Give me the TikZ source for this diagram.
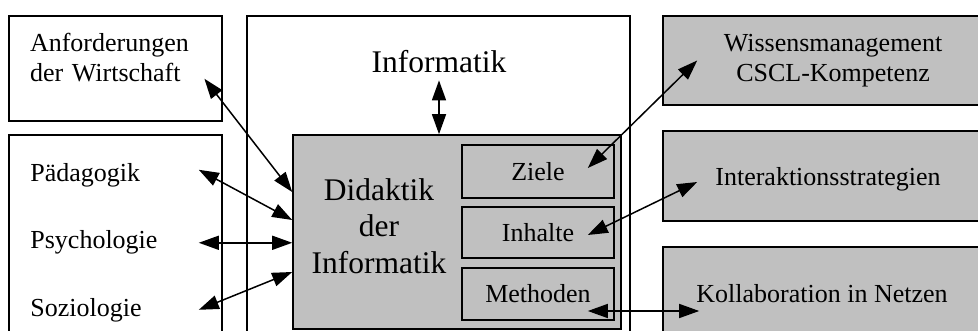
\documentclass[tikz,border=0pt]{standalone}
\usepackage{fontspec}
\setmainfont{Liberation Serif}
\usetikzlibrary{arrows.meta}
\definecolor{boxgray}{RGB}{192,192,192}
\tikzset{
wbox/.style={draw,line width=0.8pt,fill=white,inner sep=0pt},
gbox/.style={wbox,fill=boxgray},
sbox/.style={gbox,minimum width=76pt,font=\fontsize{13}{15}\selectfont},
ltxt/.style={inner sep=0pt,text width=84pt,align=left,font=\fontsize{13}{15}\selectfont},
rtxt/.style={inner sep=0pt,align=center,font=\fontsize{13}{15}\selectfont},
btxt/.style={align=center,font=\fontsize{15.75}{18.25}\selectfont},
dbl/.style={<->,>={Triangle[length=10pt,width=7pt]},line width=0.75pt}}

\begin{document}
\begin{tikzpicture}[x=0.5pt,y=-0.5pt]
\useasboundingbox (0,0) rectangle (978,331);
\clip (0,0) rectangle (978,331);
% boxes
\node[wbox,minimum width=106.5pt,minimum height=52.5pt] (anfbox) at (115.5,68.5) {};
\node[wbox,minimum width=106.5pt,minimum height=112.5pt] (discbox) at (115.5,247.5) {};
\node[wbox,minimum width=191.5pt,minimum height=172pt] (infbox) at (438.5,188) {};
\node[gbox,minimum width=164pt,minimum height=97pt] (did) at (457,232) {};
\node[sbox,minimum height=26.5pt] (ziele) at (538,171.5) {Ziele};
\node[sbox,minimum height=25.5pt] (inhalte) at (538,232.5) {Inhalte};
\node[sbox,minimum height=26pt] (meth) at (538,294) {Methoden};
\node[gbox,minimum width=168.5pt,minimum height=44.5pt] (wisbox) at (831.5,60.5) {};
\node[gbox,minimum width=168.5pt,minimum height=45pt] (intbox) at (831.5,176) {};
\node[gbox,minimum width=168.5pt,minimum height=56.5pt] (kolbox) at (831.5,303.5) {};
% texts
\node[ltxt,text width=87pt] (anf) at (117,58) {Anforderungen\\der Wirtschaft};
\node[ltxt,anchor=base west] (paed) at (30,182) {Pädagogik};
\node[ltxt,anchor=base west] (psy) at (30,249) {Psychologie};
\node[ltxt,anchor=base west] (soz) at (30,316) {Soziologie};
\node[btxt,anchor=base] (inf) at (439,73) {Informatik};
\node[btxt,inner sep=0pt] (didtxt) at (379,226) {Didaktik\\der\\Informatik};
\node[rtxt] (wis) at (833,61) {Wissensmanagement\\CSCL-Kompetenz};
\node[rtxt,anchor=base] (int) at (828,185) {Interaktionsstrategien};
\node[rtxt,anchor=base] (kol) at (822,302) {Kollaboration in Netzen};
% arrows
\draw[dbl] (inf.south) -- (inf.south |- did.north);
\draw[dbl] ([yshift=2pt]anf.south east) -- ([yshift=20pt]did.west);
\draw[dbl] ([yshift=3pt]paed.east) -- ([yshift=6pt]did.west);
\draw[dbl] (psy.east) -- (psy.east -| did.west);
\draw[dbl] (soz.east) -- ([yshift=-20pt]did.west);
\draw[dbl] ([xshift=-13.5pt,yshift=1.75pt]ziele.east) -- ([xshift=17.5pt]wisbox.west);
\draw[dbl] ([xshift=-13.5pt,yshift=-1.25pt]inhalte.east) -- ([xshift=17.5pt,yshift=-3pt]intbox.west);
\draw[dbl] ([xshift=-13.5pt,yshift=-8.5pt]meth.east) -- ([xshift=18.5pt,yshift=-3.75pt]kolbox.west);
\end{tikzpicture}
\end{document}
